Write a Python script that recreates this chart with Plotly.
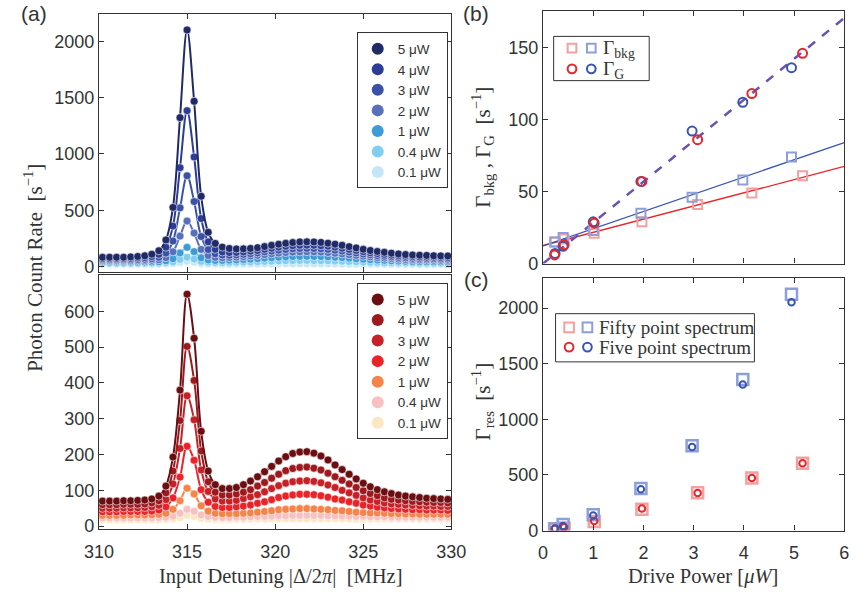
import plotly.graph_objects as go

# ---------------- DATA ----------------
detuning = [310.2, 310.6, 311.0, 311.4, 311.8, 312.2, 312.6, 313.0, 313.4, 313.8,
            314.2, 314.6, 315.0, 315.4, 315.8, 316.2, 316.6, 317.0, 317.4, 317.8,
            318.2, 318.6, 319.0, 319.4, 319.8, 320.2, 320.6, 321.0, 321.4, 321.8,
            322.2, 322.6, 323.0, 323.4, 323.8, 324.2, 324.6, 325.0, 325.4, 325.8,
            326.2, 326.6, 327.0, 327.4, 327.8, 328.2, 328.6, 329.0, 329.4, 329.8]

power_labels = ["5 μW", "4 μW", "3 μW", "2 μW", "1 μW", "0.4 μW", "0.1 μW"]

blue_5 = [82, 82, 82, 82, 85, 89, 95, 109, 140, 236,
          525, 1323, 2102, 1468, 624, 304, 205, 172, 160, 156,
          157, 161, 167, 177, 188, 198, 206, 213, 218, 219,
          218, 214, 207, 198, 188, 176, 165, 153, 142, 133,
          126, 118, 111, 106, 102, 100, 98, 95, 94, 93]
blue_4 = [70, 70, 70, 70, 72, 75, 79, 88, 108, 171,
          359, 878, 1385, 973, 426, 219, 152, 129, 124, 125,
          129, 136, 142, 152, 162, 172, 179, 184, 188, 189,
          188, 184, 180, 172, 162, 152, 142, 131, 122, 115,
          108, 101, 96, 91, 88, 85, 84, 82, 80, 79]
blue_3 = [60, 60, 60, 60, 61, 62, 64, 70, 82, 119,
          226, 521, 806, 577, 266, 150, 113, 102, 100, 103,
          108, 114, 121, 130, 137, 145, 151, 157, 160, 161,
          160, 157, 152, 145, 137, 129, 120, 111, 104, 97,
          91, 86, 81, 77, 74, 72, 70, 68, 67, 66]
blue_2 = [50, 50, 50, 50, 50, 51, 52, 55, 60, 78,
          130, 270, 404, 297, 152, 97, 81, 78, 79, 83,
          87, 93, 99, 106, 113, 119, 124, 128, 130, 131,
          130, 128, 124, 118, 112, 105, 98, 91, 85, 79,
          74, 70, 66, 62, 60, 58, 57, 55, 54, 54]
blue_1 = [38, 38, 38, 38, 38, 38, 39, 40, 42, 50,
          69, 121, 170, 132, 78, 58, 53, 53, 56, 58,
          61, 65, 69, 74, 78, 82, 85, 88, 89, 90,
          89, 88, 85, 82, 79, 74, 69, 64, 60, 57,
          54, 50, 48, 46, 44, 43, 42, 41, 41, 40]
blue_04 = [28, 28, 28, 28, 28, 28, 28, 29, 29, 33,
           40, 62, 83, 66, 45, 37, 35, 35, 36, 37,
           39, 41, 43, 45, 47, 49, 51, 52, 53, 53,
           52, 51, 50, 48, 46, 44, 42, 39, 37, 36,
           34, 33, 31, 30, 30, 29, 29, 28, 28, 27]
blue_01 = [20, 20, 20, 20, 20, 20, 20, 20, 21, 22,
           26, 36, 46, 38, 27, 23, 22, 21, 21, 22,
           22, 23, 23, 24, 24, 25, 25, 25, 25, 25,
           25, 24, 24, 24, 23, 23, 22, 22, 21, 21,
           20, 20, 19, 19, 19, 18, 18, 18, 18, 18]

red_5 = [70, 70, 70, 71, 71, 72, 73, 76, 84, 112,
         193, 380, 648, 525, 265, 154, 116, 105, 105, 108,
         116, 126, 138, 152, 167, 182, 194, 203, 207, 208,
         204, 196, 185, 171, 158, 145, 132, 120, 110, 102,
         96, 91, 87, 84, 82, 80, 78, 77, 76, 75]
red_4 = [60, 60, 60, 61, 61, 61, 62, 65, 71, 93,
         154, 295, 502, 407, 210, 124, 95, 87, 87, 90,
         95, 102, 112, 122, 134, 145, 155, 161, 164, 165,
         162, 157, 148, 138, 128, 118, 108, 99, 91, 85,
         79, 75, 73, 71, 69, 68, 67, 66, 66, 65]
red_3 = [50, 50, 50, 51, 51, 51, 52, 54, 58, 74,
         118, 217, 364, 297, 157, 97, 76, 70, 70, 72,
         77, 82, 88, 96, 105, 113, 120, 124, 126, 127,
         125, 121, 115, 108, 100, 93, 86, 79, 73, 69,
         65, 62, 61, 59, 58, 57, 56, 56, 55, 55]
red_2 = [40, 40, 40, 41, 41, 41, 41, 42, 45, 54,
         79, 137, 223, 184, 102, 67, 55, 52, 52, 54,
         56, 59, 64, 68, 74, 80, 84, 87, 89, 89,
         88, 85, 81, 76, 73, 68, 64, 59, 56, 53,
         51, 49, 48, 47, 46, 46, 45, 45, 45, 44]
red_1 = [30, 30, 30, 30, 31, 31, 31, 32, 33, 36,
         47, 71, 106, 90, 57, 42, 36, 35, 35, 35,
         36, 37, 39, 41, 43, 46, 47, 48, 49, 49,
         48, 47, 46, 44, 43, 41, 39, 38, 37, 37,
         36, 35, 35, 34, 34, 33, 33, 33, 33, 33]
red_04 = [23, 23, 23, 23, 23, 23, 23, 23, 24, 25,
          28, 36, 47, 42, 31, 27, 25, 24, 24, 25,
          25, 26, 27, 27, 28, 29, 29, 30, 30, 30,
          30, 30, 29, 29, 28, 28, 27, 27, 26, 26,
          26, 25, 25, 25, 25, 25, 25, 25, 25, 25]
red_01 = [18, 18, 18, 18, 18, 18, 18, 18, 18, 19,
          21, 24, 30, 27, 22, 20, 19, 19, 19, 19,
          19, 20, 20, 20, 21, 21, 21, 21, 21, 21,
          21, 21, 21, 21, 21, 20, 20, 20, 20, 20,
          20, 20, 20, 20, 20, 20, 20, 20, 20, 20]

blue_series = [blue_5, blue_4, blue_3, blue_2, blue_1, blue_04, blue_01]
red_series = [red_5, red_4, red_3, red_2, red_1, red_04, red_01]

# panel (b)
power_blue = [0.24, 0.40, 1.00, 1.95, 2.97, 3.98, 4.95]
power_red = [0.23, 0.42, 1.02, 1.97, 3.08, 4.16, 5.17]
gammaG_blue = [7, 12, 29, 57, 92, 112, 136]
gammaG_red = [6, 13, 28, 57, 86, 118, 146]
bkg_blue = [15, 18, 23, 35, 46, 58, 74]
bkg_red = [15, 17, 21, 29, 41, 49, 61]
fit_power = [0, 6]
fit_G = [0, 170.5]
fit_bkg_blue = [12.3, 84]
fit_bkg_red = [12.5, 67.4]

# panel (c)
res_fifty_blue = [14, 53, 141, 378, 762, 1357, 2124]
res_five_blue = [18, 40, 135, 372, 750, 1313, 2053]
res_fifty_red = [15, 22, 80, 192, 339, 472, 605]
res_five_red = [15, 30, 85, 197, 337, 472, 605]

# ---------------- STYLE ----------------
W, H = 865, 600
blue_cols = ["#1f2a66", "#2c3d96", "#3a52a6", "#5670ba", "#3d9bd8", "#80cff2", "#c4e7f8"]
red_cols = ["#6a0e12", "#9c1a1f", "#c52127", "#ea2329", "#f4844a", "#f8c0c0", "#fde7c2"]
C_RED, C_BLUE = "#e8262a", "#3a56b0"
C_LRED, C_LBLUE = "#f4a0a0", "#8c9fd8"
C_PURPLE = "#6a52b0"
INK = "#333333"
SANS = "Liberation Sans"
SERIF = "Liberation Serif"


def px(x):
    return x / W


def py(y):
    return 1 - y / H


fig = go.Figure()

# spectra (lightest first so dark traces sit on top)
for series, cols, xa, ya in [(blue_series, blue_cols, "x", "y"), (red_series, red_cols, "x2", "y2")]:
    for k in range(len(series) - 1, -1, -1):
        fig.add_trace(go.Scatter(
            x=detuning, y=series[k], mode="lines+markers", xaxis=xa, yaxis=ya,
            line=dict(color=cols[k], width=2, shape="spline", smoothing=1.0),
            marker=dict(size=8, color=cols[k], line=dict(color="white", width=0.6)),
            showlegend=False, hoverinfo="skip"))

# legend entries (marker only)
for k, lab in enumerate(power_labels):
    fig.add_trace(go.Scatter(x=[None], y=[None], mode="markers", xaxis="x", yaxis="y",
                             marker=dict(size=12, color=blue_cols[k]), name=lab, legend="legend"))
    fig.add_trace(go.Scatter(x=[None], y=[None], mode="markers", xaxis="x2", yaxis="y2",
                             marker=dict(size=12, color=red_cols[k]), name=lab, legend="legend2"))

# panel (b)
fig.add_trace(go.Scatter(x=fit_power, y=fit_bkg_red, mode="lines", xaxis="x3", yaxis="y3",
                         line=dict(color=C_RED, width=1.3), showlegend=False))
fig.add_trace(go.Scatter(x=fit_power, y=fit_bkg_blue, mode="lines", xaxis="x3", yaxis="y3",
                         line=dict(color=C_BLUE, width=1.3), showlegend=False))
fig.add_trace(go.Scatter(x=fit_power, y=fit_G, mode="lines", xaxis="x3", yaxis="y3",
                         line=dict(color=C_PURPLE, width=2.5, dash="dash"), showlegend=False))
fig.add_trace(go.Scatter(x=power_red, y=bkg_red, mode="markers", xaxis="x3", yaxis="y3",
                         marker=dict(symbol="square-open", size=9, color=C_LRED, line=dict(width=2)),
                         showlegend=False))
fig.add_trace(go.Scatter(x=power_blue, y=bkg_blue, mode="markers", xaxis="x3", yaxis="y3",
                         marker=dict(symbol="square-open", size=9, color=C_LBLUE, line=dict(width=2)),
                         showlegend=False))
fig.add_trace(go.Scatter(x=power_blue, y=gammaG_blue, mode="markers", xaxis="x3", yaxis="y3",
                         marker=dict(symbol="circle-open", size=9, color=C_BLUE, line=dict(width=2)),
                         showlegend=False))
fig.add_trace(go.Scatter(x=power_red, y=gammaG_red, mode="markers", xaxis="x3", yaxis="y3",
                         marker=dict(symbol="circle-open", size=9, color=C_RED, line=dict(width=2)),
                         showlegend=False))

# panel (c)
fig.add_trace(go.Scatter(x=power_red, y=res_fifty_red, mode="markers", xaxis="x4", yaxis="y4",
                         marker=dict(symbol="square-open", size=11, color=C_LRED, line=dict(width=2.5)),
                         showlegend=False))
fig.add_trace(go.Scatter(x=power_blue, y=res_fifty_blue, mode="markers", xaxis="x4", yaxis="y4",
                         marker=dict(symbol="square-open", size=11, color=C_LBLUE, line=dict(width=2.5)),
                         showlegend=False))
fig.add_trace(go.Scatter(x=power_red, y=res_five_red, mode="markers", xaxis="x4", yaxis="y4",
                         marker=dict(symbol="circle-open", size=6.5, color=C_RED, line=dict(width=2)),
                         showlegend=False))
fig.add_trace(go.Scatter(x=power_blue, y=res_five_blue, mode="markers", xaxis="x4", yaxis="y4",
                         marker=dict(symbol="circle-open", size=6.5, color=C_BLUE, line=dict(width=2)),
                         showlegend=False))

axis_common = dict(showline=True, linecolor=INK, linewidth=1.2, mirror="ticks",
                   ticks="inside", ticklen=5, tickwidth=1.2, tickcolor=INK,
                   showgrid=False, zeroline=False,
                   tickfont=dict(family=SANS, size=18, color=INK))

fig.update_layout(
    width=W, height=H, margin=dict(l=0, r=0, t=0, b=0),
    paper_bgcolor="white", plot_bgcolor="white",
    xaxis=dict(axis_common, domain=[px(87), px(452)], range=[310, 330], anchor="y",
               tickvals=[310, 315, 320, 325, 330], showticklabels=False),
    yaxis=dict(axis_common, domain=[py(276.5), py(14)], range=[-48, 2246], anchor="x",
               tickvals=[0, 500, 1000, 1500, 2000]),
    xaxis2=dict(axis_common, domain=[px(87), px(452)], range=[310, 330], anchor="y2",
                tickvals=[310, 315, 320, 325, 330], ticklabelstandoff=6),
    yaxis2=dict(axis_common, domain=[py(538), py(279.5)], range=[-8, 702], anchor="x2",
                tickvals=[0, 100, 200, 300, 400, 500, 600]),
    xaxis3=dict(axis_common, domain=[px(547), px(859)], range=[0, 6], anchor="y3",
                tickvals=[0, 1, 2, 3, 4, 5, 6], showticklabels=False),
    yaxis3=dict(axis_common, domain=[py(268), py(11)], range=[0, 175.5], anchor="x3",
                tickvals=[0, 50, 100, 150]),
    xaxis4=dict(axis_common, domain=[px(547), px(859)], range=[0, 6], anchor="y4",
                tickvals=[0, 1, 2, 3, 4, 5, 6], ticklabelstandoff=6),
    yaxis4=dict(axis_common, domain=[py(539.5), py(283)], range=[0, 2268], anchor="x4",
                tickvals=[0, 500, 1000, 1500, 2000]),
    legend=dict(x=px(354), y=py(33), xanchor="left", yanchor="top", bgcolor="white",
                bordercolor=INK, borderwidth=1, font=dict(family=SANS, size=13.5, color=INK),
                itemwidth=30, tracegroupgap=0),
    legend2=dict(x=px(354), y=py(288), xanchor="left", yanchor="top", bgcolor="white",
                 bordercolor=INK, borderwidth=1, font=dict(family=SANS, size=13.5, color=INK),
                 itemwidth=30, tracegroupgap=0),
)

ann = []


def text(x, y, s, size=21, family=SERIF, angle=0, xanchor="center"):
    ann.append(dict(x=px(x), y=py(y), xref="paper", yref="paper", text=s, showarrow=False,
                    textangle=angle, xanchor=xanchor, yanchor="middle",
                    font=dict(family=family, size=size, color=INK)))


text(20, 14, "(a)", size=21, family=SANS)
text(478, 14, "(b)", size=21, family=SANS)
text(478, 284, "(c)", size=21, family=SANS)
text(275, 586, "Input Detuning |Δ/2<i>π</i>|  [MHz]", size=20.5)
text(713, 586, "Drive Power [<i>μW</i>]", size=20.5)
text(19, 272, "Photon Count Rate  [s<sup>−1</sup>]", angle=-90)
text(484, 150, "Γ<sub>bkg</sub> , Γ<sub>G</sub>  [s<sup>−1</sup>]", angle=-90)
text(484, 408, "Γ<sub>res</sub>  [s<sup>−1</sup>]", angle=-90)

# manual legends for (b) and (c)
shapes = []


def box(x0, y0, x1, y1):
    shapes.append(dict(type="rect", xref="paper", yref="paper", x0=px(x0), x1=px(x1),
                       y0=py(y1), y1=py(y0), line=dict(color=INK, width=1), fillcolor="white",
                       layer="above"))


def sym(kind, cx, cy, r, col, w=2):
    shapes.append(dict(type=kind, xref="paper", yref="paper", x0=px(cx - r), x1=px(cx + r),
                       y0=py(cy + r), y1=py(cy - r), line=dict(color=col, width=w), layer="above"))


box(558, 37, 657, 82)
sym("rect", 577, 49, 4.5, C_LRED)
sym("rect", 597, 49, 4.5, C_LBLUE)
sym("circle", 577, 70, 4.5, C_RED)
sym("circle", 597, 70, 4.5, C_BLUE)
text(607, 50, "Γ<sub>bkg</sub>", size=19.5, xanchor="left")
text(607, 71, "Γ<sub>G</sub>", size=19.5, xanchor="left")

box(560, 319, 766, 368)
sym("rect", 574, 333, 5, C_LRED)
sym("rect", 593, 333, 5, C_LBLUE)
sym("circle", 574, 353, 4.5, C_RED)
sym("circle", 593, 353, 4.5, C_BLUE)
text(603, 333, "Fifty point spectrum", size=19, xanchor="left")
text(603, 353, "Five point spectrum", size=19, xanchor="left")

fig.update_layout(annotations=ann, shapes=shapes)
fig.write_html("out.html")
